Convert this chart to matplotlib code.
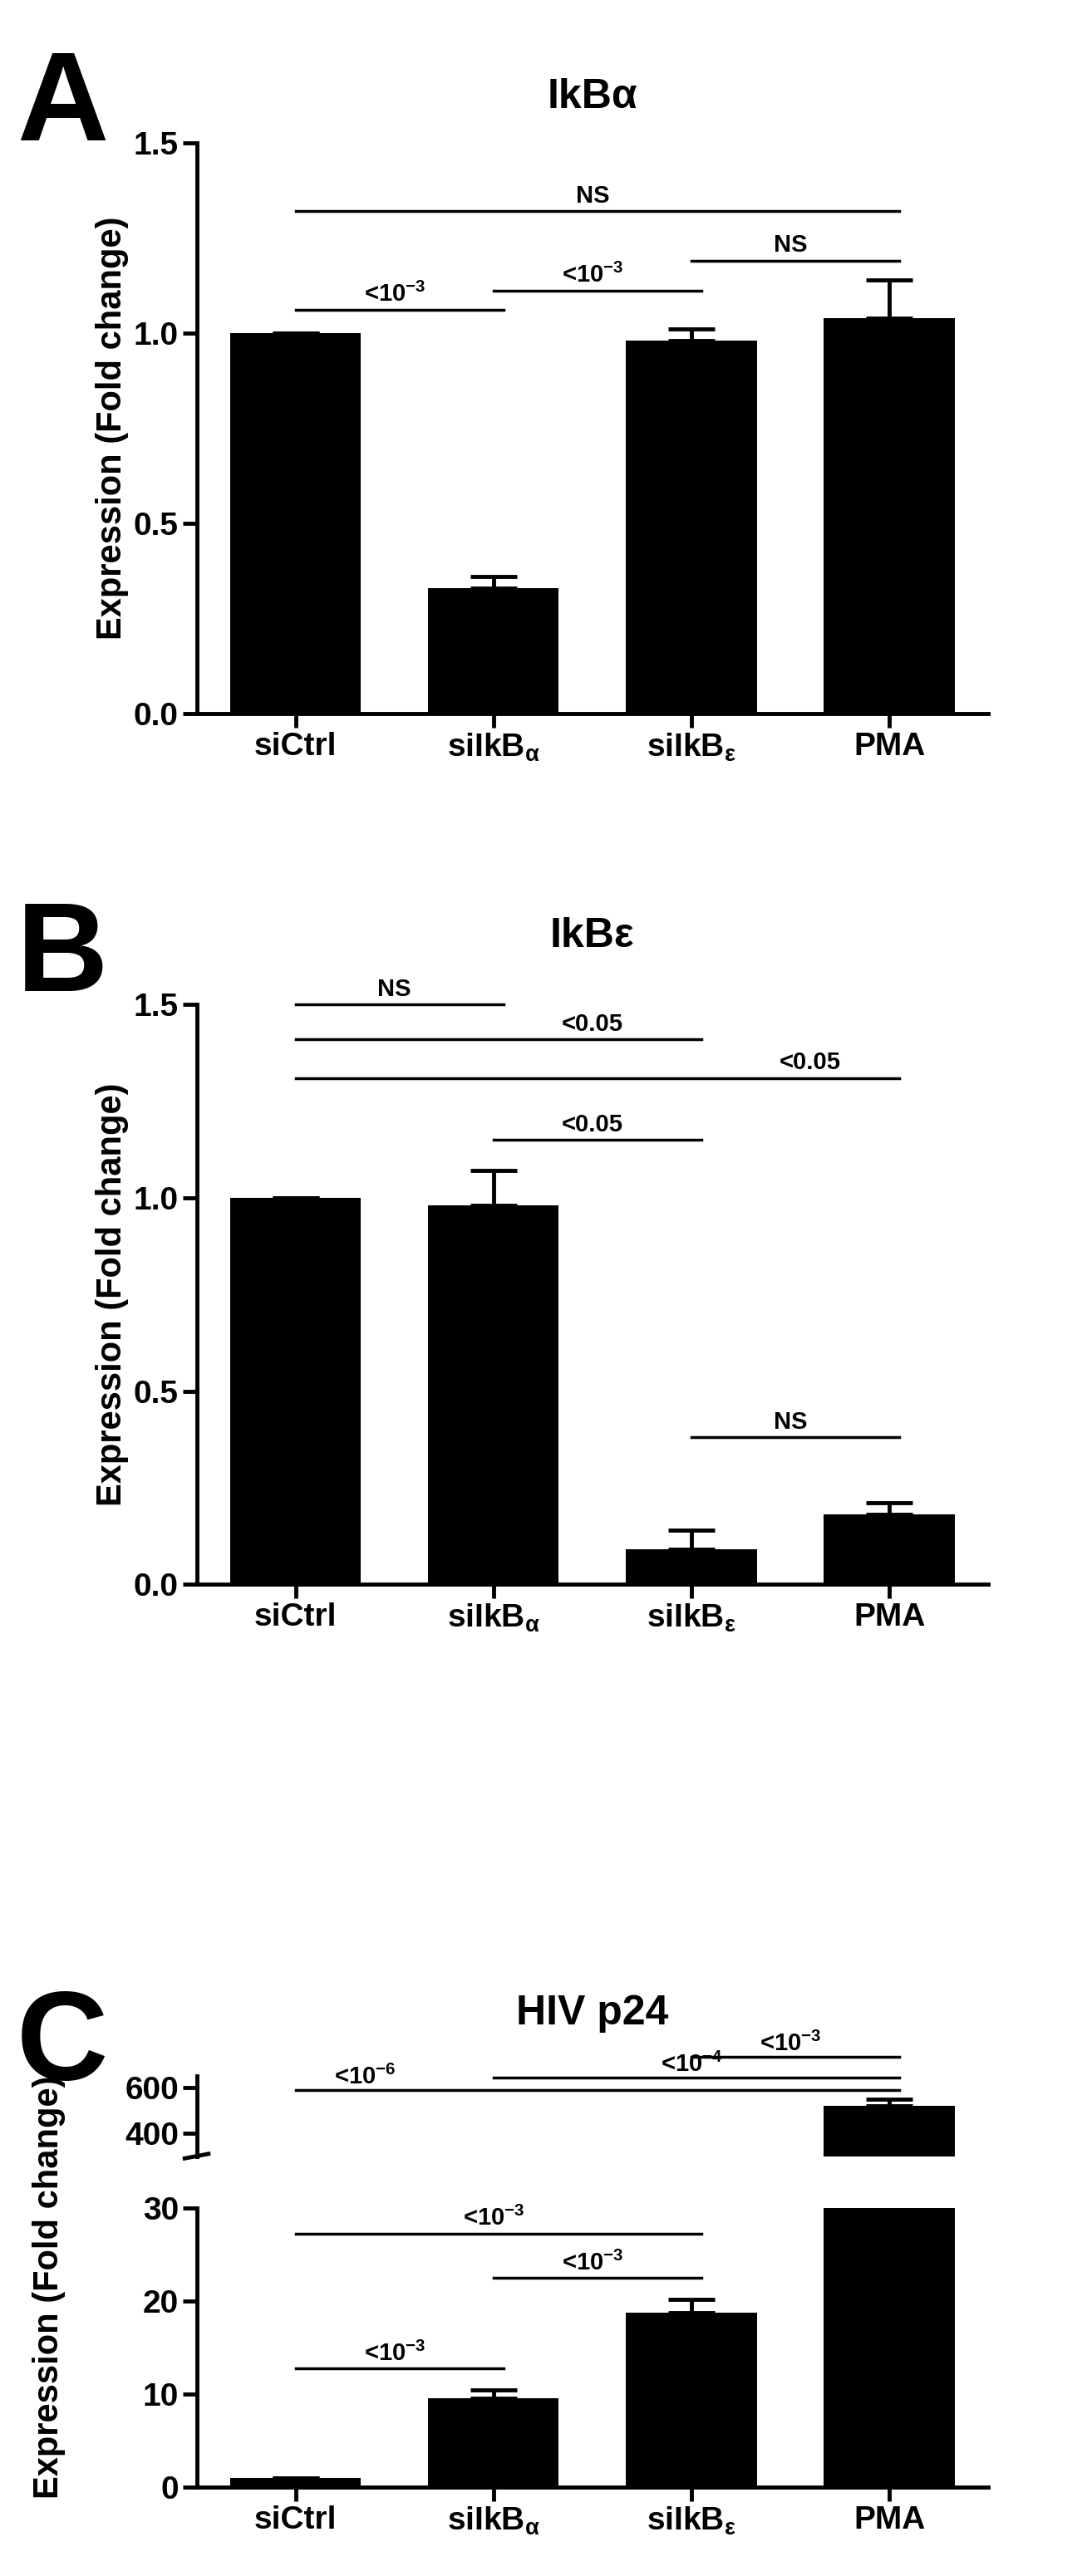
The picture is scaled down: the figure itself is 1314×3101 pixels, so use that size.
import matplotlib
matplotlib.use("Agg")
import matplotlib.pyplot as plt

plt.rcParams['font.family'] = ['Liberation Sans', 'DejaVu Sans']
plt.rcParams['font.weight'] = 'bold'
plt.rcParams['mathtext.default'] = 'regular'

groups = ['siCtrl', r'siIkB$_{\alpha}$', r'siIkB$_{\epsilon}$', 'PMA']
vals_a = [1.0, 0.33, 0.98, 1.04]
err_a = [0.0, 0.03, 0.03, 0.10]
vals_b = [1.0, 0.98, 0.09, 0.18]
err_b = [0.0, 0.09, 0.05, 0.03]
vals_c = [1.0, 9.6, 18.8, 520]
err_c = [0.0, 0.9, 1.4, 30]

# (x1, x2, y, label, label_x)
sig_a = [(0, 3, 1.32, 'NS', 1.5), (0, 1, 1.06, '<10$^{-3}$', 0.5),
         (1, 2, 1.11, '<10$^{-3}$', 1.5), (2, 3, 1.19, 'NS', 2.5)]
sig_b = [(0, 1, 1.50, 'NS', 0.5), (0, 2, 1.41, '<0.05', 1.5),
         (0, 3, 1.31, '<0.05', 2.6), (1, 2, 1.15, '<0.05', 1.5),
         (2, 3, 0.38, 'NS', 2.5)]
sig_c_low = [(0, 1, 12.8, '<10$^{-3}$', 0.5), (1, 2, 22.5, '<10$^{-3}$', 1.5),
             (0, 2, 27.3, '<10$^{-3}$', 1.0)]
sig_c_up = [(0, 3, 590, '<10$^{-6}$', 0.35), (1, 3, 645, '<10$^{-4}$', 2.0),
            (2, 3, 735, '<10$^{-3}$', 2.5)]

x = list(range(len(groups)))
W = 1314 / 100
H = 3101 / 100
fig = plt.figure(figsize=(W, H), dpi=100)
L, R = 0.18, 0.905


def style(ax):
    for s in ['top', 'right']:
        ax.spines[s].set_visible(False)
    for s in ['left', 'bottom']:
        ax.spines[s].set_linewidth(3.5)
    ax.tick_params(width=3.5, length=12, labelsize=28)
    for t in ax.get_yticklabels():
        t.set_fontweight('bold')


def bars(ax, vals, errs):
    ax.bar(x, vals, width=0.66, color='black')
    ax.errorbar(x, vals, yerr=[[0] * len(errs), errs], fmt='none',
                ecolor='black', elinewidth=3.5, capsize=20, capthick=3.5)
    ax.set_xlim(-0.5, 3.5)


def sig(ax, items, off):
    for x1, x2, y, lab, lx in items:
        ax.plot([x1, x2 + 0.05], [y, y], color='black', lw=2.5, clip_on=False)
        ax.text(lx, y + off, lab, ha='center', va='bottom', fontsize=21,
                fontweight='bold', clip_on=False)


def xlabels(ax):
    ax.set_xticks(x)
    ax.set_xticklabels(groups, fontsize=29, fontweight='bold')


# panel A
axa = fig.add_axes([L, 0.723, R - L, 0.2216])
bars(axa, vals_a, err_a)
axa.set_ylim(0, 1.5)
axa.set_yticks([0, 0.5, 1.0, 1.5])
axa.set_yticklabels(['0.0', '0.5', '1.0', '1.5'])
sig(axa, sig_a, 0.01)
xlabels(axa)
style(axa)
axa.set_ylabel('Expression (Fold change)', fontsize=30, fontweight='bold')
axa.set_title('IkB\u03b1', fontsize=36, fontweight='bold', pad=30)
fig.text(0.015, 0.958, 'A', fontsize=110, va='center')

# panel B
axb = fig.add_axes([L, 0.385, R - L, 0.225])
bars(axb, vals_b, err_b)
axb.set_ylim(0, 1.5)
axb.set_yticks([0, 0.5, 1.0, 1.5])
axb.set_yticklabels(['0.0', '0.5', '1.0', '1.5'])
sig(axb, sig_b, 0.01)
xlabels(axb)
style(axb)
axb.set_ylabel('Expression (Fold change)', fontsize=30, fontweight='bold')
axb.set_title('IkB\u03b5', fontsize=36, fontweight='bold', pad=50)
fig.text(0.015, 0.628, 'B', fontsize=110, va='center')

# panel C (broken axis)
axl = fig.add_axes([L, 0.0344, R - L, 0.1083])
bars(axl, vals_c, err_c)
axl.set_ylim(0, 30)
axl.set_yticks([0, 10, 20, 30])
sig(axl, sig_c_low, 0.3)
xlabels(axl)
style(axl)

axu = fig.add_axes([L, 0.163, R - L, 0.031])
bars(axu, vals_c, err_c)
axu.set_ylim(300, 650)
axu.set_yticks([400, 600])
axu.set_xticks([])
axu.spines['bottom'].set_visible(False)
sig(axu, sig_c_up, 4)
style(axu)
axu.set_title('HIV p24', fontsize=36, fontweight='bold', pad=45)
# break mark
axu.plot([-0.56, -0.44], [290, 310], color='black', lw=3.5, clip_on=False)
fig.text(0.045, 0.112, 'Expression (Fold change)', fontsize=30,
         fontweight='bold', rotation=90, va='center', ha='center')
fig.text(0.015, 0.205, 'C', fontsize=110, va='center')

fig.savefig('out.png', dpi=100)
